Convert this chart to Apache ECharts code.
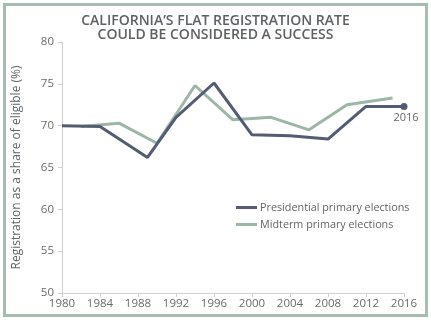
<!DOCTYPE html>
<html>
<head>
<meta charset="utf-8">
<script src="https://cdn.jsdelivr.net/npm/echarts@6/dist/echarts.min.js"></script>
<style>
html,body{margin:0;padding:0;background:#fff;}
#chart{width:431px;height:322px;}
</style>
</head>
<body>
<div id="chart"></div>
<script>
const titleLines = ["CALIFORNIA\u2019S FLAT REGISTRATION RATE", "COULD BE CONSIDERED A SUCCESS"];
const yAxisTitle = "Registration as a share of eligible (%)";
const seriesNames = ["Presidential primary elections", "Midterm primary elections"];
const presidentialYears = [1980, 1984, 1989, 1992, 1996, 2000, 2004, 2008, 2012, 2016];
const presidentialValues = [70.0, 69.9, 66.2, 71.0, 75.1, 68.9, 68.8, 68.4, 72.3, 72.3];
const midtermYears = [1982, 1986, 1990, 1994, 1998, 2002, 2006, 2010, 2014.8];
const midtermValues = [69.9, 70.3, 67.9, 74.8, 70.7, 71.0, 69.5, 72.5, 73.3];
const endLabel = "2016";

const font = "'Open Sans', sans-serif";
const presData = presidentialYears.map((y, i) => {
  const item = {value: [y, presidentialValues[i]]};
  if (i === presidentialYears.length - 1) {
    item.symbol = 'circle';
    item.symbolSize = 7;
    item.label = {show: true, formatter: endLabel, position: 'bottom', offset: [2, -3],
      color: '#666', fontSize: 11, fontFamily: font};
  }
  return item;
});
const midData = midtermYears.map((y, i) => [y, midtermValues[i]]);

const chart = echarts.init(document.getElementById('chart'), null, {renderer: 'canvas'});
chart.setOption({
  animation: false,
  backgroundColor: '#fff',
  graphic: [{
    type: 'rect', shape: {x: 4.5, y: 4.5, width: 422, height: 311},
    style: {fill: 'none', stroke: '#a7bdb2', lineWidth: 3}, silent: true
  }],
  title: {
    text: titleLines.join('\n'),
    left: 'center', top: 9,
    textStyle: {fontFamily: font, fontSize: 14, fontWeight: 600, color: '#5e6163', lineHeight: 14}
  },
  legend: {
    show: true, orient: 'vertical', left: 231, top: 197, itemGap: 6,
    itemWidth: 21, itemHeight: 3, icon: 'rect',
    textStyle: {fontFamily: font, fontSize: 10.8, color: '#5f6468', padding: [0, 0, 0, -2]},
    data: seriesNames
  },
  grid: {left: 62, right: 27, top: 42, bottom: 29, containLabel: false},
  xAxis: {
    type: 'value', min: 1980, max: 2016, interval: 4,
    axisLine: {show: true, lineStyle: {color: '#d0d0d0', width: 1}},
    axisTick: {show: true, length: 4, lineStyle: {color: '#d0d0d0'}},
    axisLabel: {color: '#6a6a6a', fontFamily: font, fontSize: 11.5, margin: 5, formatter: v => String(v)},
    splitLine: {show: false}
  },
  yAxis: {
    type: 'value', min: 50, max: 80, interval: 5,
    name: yAxisTitle, nameLocation: 'middle', nameGap: 39, nameRotate: 90,
    nameTextStyle: {fontFamily: font, fontSize: 12, color: '#5f6468'},
    axisLine: {show: true, lineStyle: {color: '#d0d0d0', width: 1}},
    axisTick: {show: true, length: 4, lineStyle: {color: '#d0d0d0'}},
    axisLabel: {color: '#6a6a6a', fontFamily: font, fontSize: 11.5, margin: 8},
    splitLine: {show: false}
  },
  series: [
    {
      name: seriesNames[0], type: 'line', data: presData, symbol: 'none',
      lineStyle: {color: '#535c72', width: 3}, itemStyle: {color: '#535c72'},
      z: 3
    },
    {
      name: seriesNames[1], type: 'line', data: midData, symbol: 'none',
      lineStyle: {color: '#9cb7a6', width: 3}, itemStyle: {color: '#9cb7a6'},
      z: 2
    }
  ]
});
</script>
</body>
</html>
